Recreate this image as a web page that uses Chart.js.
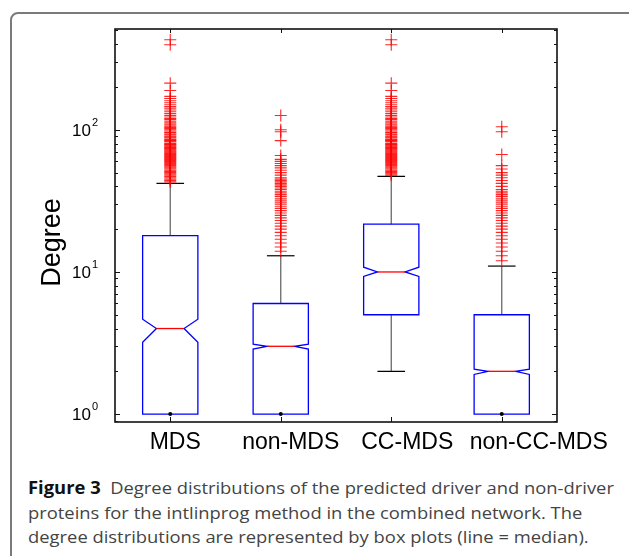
<!DOCTYPE html>
<html>
<head>
<meta charset="utf-8">
<script src="https://cdn.jsdelivr.net/npm/chart.js@4.4.1/dist/chart.umd.min.js"></script>
<style>
    html, body { margin: 0; padding: 0; background: #fff; }
    body { width: 629px; height: 556px; position: relative; overflow: hidden; }
    #frame {
        position: absolute; left: 10px; top: 12px; width: 660px; height: 600px;
        border: 2px solid #7a7a7a; border-radius: 8px; box-sizing: border-box;
    }
    #chartWrap { position: absolute; left: 0; top: 0; width: 629px; height: 460px; }
    #caption {
        position: absolute; left: 28px; top: 476px;
        font-family: "Open Sans", "Noto Sans", sans-serif; font-size: 17px;
        color: #444; white-space: nowrap; transform-origin: 0 0;
    }
    #caption .line { height: 24.5px; line-height: 24.5px; }
    #caption b { color: #111; font-weight: 700; }
</style>
</head>
<body>
<div id="frame"></div>
<div id="chartWrap"><canvas id="boxChart" width="629" height="460"></canvas></div>
<div id="caption">
    <div class="line" id="capLine1"><b>Figure 3</b>&nbsp; Degree distributions of the predicted driver and non-driver</div>
    <div class="line">proteins for the intlinprog method in the combined network. The</div>
    <div class="line">degree distributions are represented by box plots (line = median).</div>
</div>
<script>
// ---- data ----
const categories = ['MDS', 'non-MDS', 'CC-MDS', 'non-CC-MDS'];
const lowerWhisker = [1, 1, 2, 1];
const q1 = [1, 1, 5, 1];
const notchLow = [3.2, 2.87, 9.3, 1.9];
const medians = [4, 3, 10, 2];
const notchHigh = [4.65, 3.1, 10.8, 2.07];
const q3 = [18, 6, 21.7, 5];
const upperWhisker = [42, 13, 47, 11];

const outliersMDS = [43, 44, 45, 46, 47, 48, 49, 50, 51, 52, 53, 54, 55, 56, 57, 58, 59, 60, 61, 62,
    63, 64, 65, 66, 67, 68, 69, 70, 71, 72, 73, 74, 75, 76, 77, 78, 79, 80, 82, 83, 84, 85, 86, 88,
    89, 90, 92, 93, 95, 96, 98, 100, 102, 104, 106, 108, 110, 112, 115, 118, 120, 123, 126, 130,
    134, 138, 142, 146, 150, 155, 160, 166, 172, 189, 213, 397, 430];
const outliersNonMDS = [14, 15, 16, 17, 18, 19, 20, 21, 22, 23, 24, 25, 26, 27, 28, 29, 30, 31, 32,
    33, 34, 35, 36, 37, 38, 39, 40, 41, 42, 43, 44, 45, 46, 48, 50, 52, 54, 56, 58, 60, 62, 66, 84,
    97, 100, 126];
const outliersCCMDS = [48, 49, 50, 51, 52, 53, 54, 55, 56, 57, 58, 59, 60, 61, 62, 63, 64, 65, 66,
    67, 68, 69, 70, 71, 72, 73, 74, 75, 76, 77, 78, 79, 80, 82, 83, 84, 85, 86, 88, 89, 90, 92, 93,
    95, 96, 98, 100, 102, 104, 106, 108, 110, 112, 115, 118, 120, 123, 126, 130, 134, 138, 142,
    146, 150, 155, 160, 166, 172, 189, 213, 397, 430];
const outliersNonCCMDS = [12, 13, 14, 15, 16, 17, 18, 19, 20, 21, 22, 23, 24, 25, 26, 27, 28, 29,
    30, 31, 32, 33, 34, 35, 36, 37, 38, 40, 42, 44, 46, 48, 50, 53, 56, 67, 97, 105];
const outlierLists = [outliersMDS, outliersNonMDS, outliersCCMDS, outliersNonCCMDS];

const yExponents = [0, 1, 2];
const yMin = 0.88;
const yMax = 512;

// labels in the figure sit a little right of their ticks
const labelNudge = [5, 10, 16, 37];

// ---- box drawing ----
const boxPlugin = {
    id: 'notchedBoxes',
    beforeDatasetsDraw(chart) {
        const ctx = chart.ctx;
        const xs = chart.scales.x;
        const ys = chart.scales.y;
        const unit = xs.getPixelForValue(2) - xs.getPixelForValue(1);
        const hw = unit * 0.25;
        const capHw = unit * 0.125;

        categories.forEach((c, i) => {
            const x = xs.getPixelForValue(i + 1);
            const py = v => ys.getPixelForValue(v);
            ctx.save();

            // whiskers
            ctx.strokeStyle = 'rgba(40,40,40,0.7)';
            ctx.lineWidth = 1.3;
            ctx.beginPath();
            ctx.moveTo(x, py(q3[i])); ctx.lineTo(x, py(upperWhisker[i]));
            ctx.moveTo(x, py(q1[i])); ctx.lineTo(x, py(lowerWhisker[i]));
            ctx.stroke();
            ctx.strokeStyle = '#000';
            ctx.lineWidth = 1.2;
            ctx.beginPath();
            ctx.moveTo(x - capHw, py(upperWhisker[i])); ctx.lineTo(x + capHw, py(upperWhisker[i]));
            if (lowerWhisker[i] < q1[i]) {
                ctx.moveTo(x - capHw, py(lowerWhisker[i])); ctx.lineTo(x + capHw, py(lowerWhisker[i]));
            }
            ctx.stroke();

            // notched box
            ctx.strokeStyle = '#0000ff';
            ctx.lineWidth = 1.3;
            ctx.beginPath();
            ctx.moveTo(x - hw, py(q1[i]));
            ctx.lineTo(x - hw, py(notchLow[i]));
            ctx.lineTo(x - hw / 2, py(medians[i]));
            ctx.lineTo(x - hw, py(notchHigh[i]));
            ctx.lineTo(x - hw, py(q3[i]));
            ctx.lineTo(x + hw, py(q3[i]));
            ctx.lineTo(x + hw, py(notchHigh[i]));
            ctx.lineTo(x + hw / 2, py(medians[i]));
            ctx.lineTo(x + hw, py(notchLow[i]));
            ctx.lineTo(x + hw, py(q1[i]));
            ctx.closePath();
            ctx.stroke();

            // median
            ctx.strokeStyle = '#ff0000';
            ctx.beginPath();
            ctx.moveTo(x - hw / 2, py(medians[i]));
            ctx.lineTo(x + hw / 2, py(medians[i]));
            ctx.stroke();

            // whisker end collapsed onto the box
            if (lowerWhisker[i] === q1[i]) {
                ctx.fillStyle = '#000';
                ctx.beginPath();
                ctx.arc(x, py(lowerWhisker[i]), 2, 0, Math.PI * 2);
                ctx.fill();
            }
            ctx.restore();
        });
    }
};

// ---- matlab style axes frame ----
const axesPlugin = {
    id: 'matlabAxes',
    afterDraw(chart) {
        const ctx = chart.ctx;
        const a = chart.chartArea;
        const xs = chart.scales.x;
        const ys = chart.scales.y;
        ctx.save();
        ctx.strokeStyle = '#111';
        ctx.lineWidth = 1.6;
        ctx.strokeRect(a.left, a.top, a.right - a.left, a.bottom - a.top);

        // y ticks (inside, both sides)
        ctx.lineWidth = 1;
        ctx.beginPath();
        for (let e = -1; e <= 3; e++) {
            for (let m = 1; m <= 9; m++) {
                const v = m * Math.pow(10, e);
                if (v < yMin || v > yMax) continue;
                const y = Math.round(ys.getPixelForValue(v)) + 0.5;
                const len = m === 1 ? 5 : 3;
                ctx.moveTo(a.left, y); ctx.lineTo(a.left + len, y);
                ctx.moveTo(a.right, y); ctx.lineTo(a.right - len, y);
            }
        }
        // x ticks (inside, top and bottom)
        categories.forEach((c, i) => {
            const x = Math.round(xs.getPixelForValue(i + 1)) + 0.5;
            ctx.moveTo(x, a.bottom); ctx.lineTo(x, a.bottom - 5);
            ctx.moveTo(x, a.top); ctx.lineTo(x, a.top + 4);
        });
        ctx.stroke();

        // x category labels
        ctx.fillStyle = '#000';
        ctx.font = '23px "Liberation Sans", Arial, sans-serif';
        ctx.textAlign = 'center';
        ctx.textBaseline = 'alphabetic';
        categories.forEach((c, i) => {
            ctx.fillText(c, xs.getPixelForValue(i + 1) + labelNudge[i], a.bottom + 27);
        });

        // y tick labels 10^n
        yExponents.forEach(e => {
            const y = ys.getPixelForValue(Math.pow(10, e));
            ctx.font = '17px "Liberation Sans", Arial, sans-serif';
            ctx.textAlign = 'right';
            ctx.fillText('10', 91, y + 6);
            ctx.font = '11px "Liberation Sans", Arial, sans-serif';
            ctx.textAlign = 'left';
            ctx.fillText(String(e), 92, y - 4);
        });

        // y axis title
        ctx.translate(60, 242.5);
        ctx.rotate(-Math.PI / 2);
        ctx.font = '27px "Liberation Sans", Arial, sans-serif';
        ctx.textAlign = 'center';
        ctx.fillText('Degree', 0, 0);
        ctx.restore();
    }
};

const outlierPoints = [];
outlierLists.forEach((list, i) => list.forEach(v => outlierPoints.push({ x: i + 1, y: v })));

new Chart(document.getElementById('boxChart'), {
    type: 'scatter',
    data: {
        datasets: [{
            label: 'outliers',
            data: outlierPoints,
            pointStyle: 'cross',
            pointRadius: 6,
            pointHoverRadius: 6,
            borderColor: 'rgba(255,0,0,0.85)',
            backgroundColor: '#ff0000',
            borderWidth: 1.1
        }]
    },
    options: {
        responsive: false,
        animation: false,
        layout: { padding: { top: 29, right: 72, left: 0, bottom: 0 } },
        plugins: { legend: { display: false }, tooltip: { enabled: false } },
        scales: {
            x: {
                type: 'linear',
                min: 0.5,
                max: 4.5,
                afterBuildTicks: scale => { scale.ticks = categories.map((c, i) => ({ value: i + 1 })); },
                afterFit: scale => { scale.height = 38; },
                grid: { display: false, drawTicks: false },
                border: { display: false },
                ticks: { display: false }
            },
            y: {
                type: 'logarithmic',
                min: yMin,
                max: yMax,
                afterFit: scale => { scale.width = 115; },
                grid: { display: false, drawTicks: false },
                border: { display: false },
                ticks: { display: false }
            }
        }
    },
    plugins: [boxPlugin, axesPlugin]
});

// squeeze caption to the narrow face used in the figure
const cap = document.getElementById('caption');
const w1 = document.getElementById('capLine1').scrollWidth;
cap.style.transform = 'scaleX(' + (586 / w1) + ')';
</script>
</body>
</html>
